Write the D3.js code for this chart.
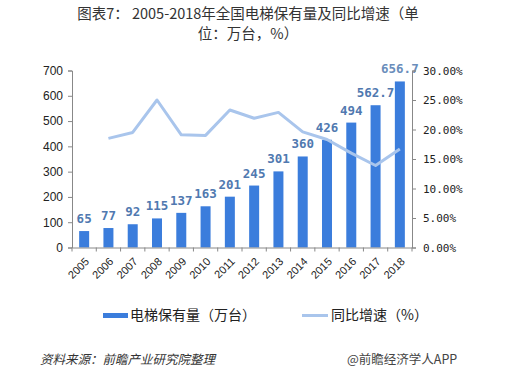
<!DOCTYPE html>
<html><head><meta charset="utf-8">
<script src="https://cdn.jsdelivr.net/npm/d3@7"></script>
<style>body{margin:0;background:#fff;}svg{display:block;}</style>
</head><body>
<script>
const years = ["2005","2006","2007","2008","2009","2010","2011","2012","2013","2014","2015","2016","2017","2018"];
const stock = [65,77,92,115,137,163,201,245,301,360,426,494,562.7,656.7];
const stockLabels = ["65","77","92","115","137","163","201","245","301","360","426","494","562.7","656.7"];
const growth = [null,18.5,19.5,25.0,19.1,19.0,23.3,21.9,22.9,19.6,18.3,16.0,13.9,16.7];
const leftTicks = [0,100,200,300,400,500,600,700];
const rightTicks = [0,5,10,15,20,25,30];
const title1 = "图表7： 2005-2018年全国电梯保有量及同比增速（单";
const title2 = "位：万台，%）";
const legendNames = ["电梯保有量（万台）","同比增速（%）"];
const source = "资料来源：前瞻产业研究院整理";
const brand = "@前瞻经济学人APP";

const W=526,H=392;
const svg=d3.select("body").append("svg").attr("width",W).attr("height",H);
const m={l:72,r:412,t:70.5,b:247.5};
const xb=d3.scaleBand().domain(years).range([m.l,m.r]);
const yL=d3.scaleLinear().domain([0,700]).range([m.b,m.t]);
const yR=d3.scaleLinear().domain([0,30]).range([m.b,m.t]);
const axisColor="#888";
const cjk="'Noto Sans CJK SC', sans-serif";
const cx=d=>xb(d)+xb.bandwidth()/2;

// title (two lines)
svg.append("text").attr("x",248).attr("y",19).attr("text-anchor","middle")
  .style("font-family",cjk).style("font-size","14.5px").attr("fill","#333").text(title1);
svg.append("text").attr("x",248).attr("y",39).attr("text-anchor","middle")
  .style("font-family",cjk).style("font-size","14.5px").attr("fill","#333").text(title2);

// bars
svg.append("g").selectAll("rect").data(years).join("rect")
  .attr("x",d=>cx(d)-5).attr("width",10)
  .attr("y",(d,i)=>yL(stock[i])).attr("height",(d,i)=>yL(0)-yL(stock[i]))
  .attr("fill","#3b7ddc");

// line
const lineData=years.map((d,i)=>({d,v:growth[i]})).filter(p=>p.v!=null);
svg.append("path").datum(lineData)
  .attr("d",d3.line().x(p=>cx(p.d)).y(p=>yR(p.v)))
  .attr("fill","none").attr("stroke","#a9c5ec").attr("stroke-width",3).attr("stroke-linejoin","round");

// labels
svg.append("g").selectAll("text").data(years).join("text")
  .attr("x",d=>cx(d)).attr("y",(d,i)=>yL(stock[i])-8)
  .attr("text-anchor","middle").style("font-family","'DejaVu Sans Mono', monospace")
  .style("font-weight","bold").style("font-size","12.5px")
  .attr("fill",(d,i)=>i===years.length-1?"#6a8dbb":"#5079b0")
  .text((d,i)=>stockLabels[i]);

// left axis
const gL=svg.append("g").attr("transform",`translate(${m.l},0)`)
  .call(d3.axisLeft(yL).tickValues(leftTicks).tickSize(4).tickPadding(5));
gL.selectAll("path,line").attr("stroke",axisColor);
gL.selectAll("text").style("font-family","'Liberation Sans', Arial").style("font-size","12px").attr("fill","#222");

// right axis
const gR=svg.append("g").attr("transform",`translate(${m.r},0)`)
  .call(d3.axisRight(yR).tickValues(rightTicks).tickSize(4).tickPadding(7).tickFormat(v=>v.toFixed(2)+"%"));
gR.selectAll("path,line").attr("stroke",axisColor);
gR.selectAll("text").style("font-family","'DejaVu Sans Mono', monospace").style("font-size","11px").attr("fill","#222");

// x axis
const gX=svg.append("g").attr("transform",`translate(0,${m.b})`)
  .call(d3.axisBottom(xb).tickSize(0).tickSizeOuter(0));
gX.select("path").attr("stroke",axisColor);
gX.selectAll("line").remove();
gX.selectAll("text").attr("x",0).attr("y",0).attr("dy","0.35em")
  .attr("transform","translate(3,12) rotate(-45)").attr("text-anchor","end")
  .style("font-family","'Liberation Sans', Arial").style("font-size","11px").attr("fill","#222");
svg.append("g").selectAll("line").data(d3.range(years.length+1)).join("line")
  .attr("x1",i=>m.l+i*xb.step()).attr("x2",i=>m.l+i*xb.step())
  .attr("y1",m.b).attr("y2",m.b+4).attr("stroke",axisColor);

// legend
svg.append("rect").attr("x",103).attr("y",313).attr("width",25).attr("height",5).attr("fill","#3b7ddc");
svg.append("text").attr("x",130).attr("y",320).style("font-family",cjk).style("font-size","14px").attr("fill","#222").text(legendNames[0]);
svg.append("line").attr("x1",302).attr("x2",328).attr("y1",315.5).attr("y2",315.5).attr("stroke","#a9c5ec").attr("stroke-width",3);
svg.append("text").attr("x",331).attr("y",320).style("font-family",cjk).style("font-size","14px").attr("fill","#222").text(legendNames[1]);

// footer
svg.append("text").attr("x",40).attr("y",364).style("font-family",cjk).style("font-style","italic")
  .style("font-size","12.5px").attr("fill","#333").text(source);
svg.append("text").attr("x",347).attr("y",364).style("font-family",cjk)
  .style("font-size","12.5px").attr("fill","#444").text(brand);
</script>
</body></html>
